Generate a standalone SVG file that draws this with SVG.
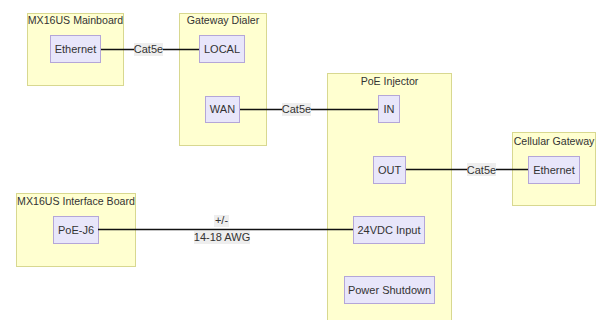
<svg xmlns="http://www.w3.org/2000/svg" width="604" height="320" viewBox="0 0 604 320">
<style>
.c{fill:#ffffd0;stroke:#d8d890;stroke-width:1}
.b{fill:#e8e6fa;stroke:#b4a6d8;stroke-width:1}
text{font-family:"Liberation Sans",Arial,sans-serif;font-size:11px;fill:#333;text-anchor:middle}
.t{font-size:10.6px}
.w{stroke:#111;stroke-width:1.3;fill:none}
.lb{fill:#eeeeee;stroke:none}
</style>
<rect width="604" height="320" fill="#fff"/>
<g id="mainboard">
<rect class="c" x="27.5" y="13.5" width="96" height="72"/>
<text class="t" x="75.5" y="24">MX16US Mainboard</text>
</g>
<g id="mainboard-ethernet">
<rect class="b" x="50.5" y="35.5" width="50" height="27"/>
<text x="75.5" y="53">Ethernet</text>
</g>
<g id="dialer">
<rect class="c" x="179.5" y="13.5" width="87" height="132"/>
<text class="t" x="223" y="24">Gateway Dialer</text>
</g>
<g id="dialer-local">
<rect class="b" x="199.5" y="35.5" width="45" height="27"/>
<text x="222" y="53">LOCAL</text>
</g>
<g id="dialer-wan">
<rect class="b" x="205.5" y="96.5" width="34" height="26"/>
<text x="222.5" y="113">WAN</text>
</g>
<g id="injector">
<rect class="c" x="327.5" y="73.5" width="124" height="260"/>
<text class="t" x="389.5" y="85">PoE Injector</text>
</g>
<g id="injector-in">
<rect class="b" x="378.5" y="95.5" width="21" height="27"/>
<text x="389" y="113">IN</text>
</g>
<g id="injector-out">
<rect class="b" x="373.5" y="156.5" width="32" height="27"/>
<text x="389.5" y="174">OUT</text>
</g>
<g id="injector-24vdc">
<rect class="b" x="353.5" y="216.5" width="71" height="27"/>
<text x="389" y="234">24VDC Input</text>
</g>
<g id="injector-shutdown">
<rect class="b" x="344.5" y="276.5" width="90" height="27"/>
<text x="389.5" y="294">Power Shutdown</text>
</g>
<g id="cellular">
<rect class="c" x="512.5" y="132.5" width="83" height="73"/>
<text class="t" x="554" y="145">Cellular Gateway</text>
</g>
<g id="cellular-ethernet">
<rect class="b" x="528.5" y="156.5" width="51" height="27"/>
<text x="554" y="174">Ethernet</text>
</g>
<g id="interface">
<rect class="c" x="16.5" y="193.5" width="119" height="73"/>
<text class="t" x="76" y="205">MX16US Interface Board</text>
</g>
<g id="interface-poe">
<rect class="b" x="53.5" y="216.5" width="45" height="27"/>
<text x="76" y="234">PoE-J6</text>
</g>
<g id="connectors">
<line class="w" x1="101" y1="49.5" x2="199" y2="49.5"/>
<rect class="lb" x="134" y="43" width="29" height="13"/>
<text x="148.5" y="53">Cat5e</text>
<line class="w" x1="240" y1="109.5" x2="378" y2="109.5"/>
<rect class="lb" x="282" y="103" width="29" height="13"/>
<text x="296.5" y="113">Cat5e</text>
<line class="w" x1="406" y1="169.5" x2="528" y2="169.5"/>
<rect class="lb" x="467" y="163" width="29" height="13"/>
<text x="481.5" y="174">Cat5e</text>
<line class="w" x1="98" y1="229.5" x2="353" y2="229.5"/>
<rect class="lb" x="214" y="215" width="15" height="12"/>
<text x="221.5" y="224">+/-</text>
<rect class="lb" x="194" y="231" width="56" height="13"/>
<text x="222" y="241">14-18 AWG</text>
</g>
</svg>
